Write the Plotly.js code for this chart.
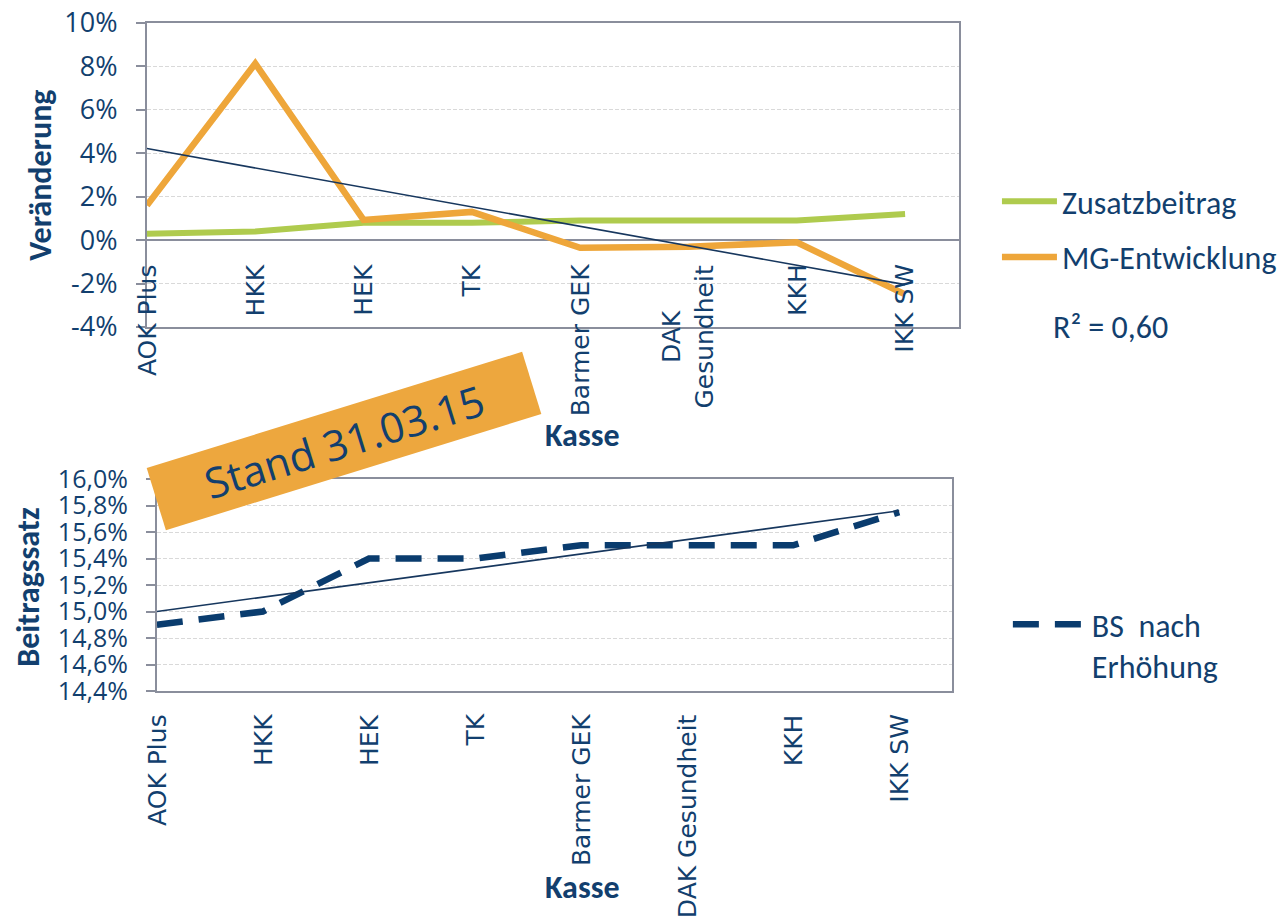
<!DOCTYPE html>
<html><head><meta charset="utf-8">
<script src="https://cdn.plot.ly/plotly-3.0.1.min.js"></script>
<style>html,body{margin:0;padding:0;background:#fff}#chart{width:1282px;height:920px}</style>
</head><body><div id="chart"></div>
<script>
// ---- data ----
const categories = ['AOK Plus','HKK','HEK','TK','Barmer GEK','DAK Gesundheit','KKH','IKK SW'];
const topCatLabels = ['AOK Plus','HKK','HEK','TK','Barmer GEK','DAK<br>Gesundheit','KKH','IKK SW'];
const bottomCatLabels = ['AOK Plus','HKK','HEK','TK','Barmer GEK','DAK Gesundheit','KKH','IKK SW'];
const zusatzbeitrag = [0.3, 0.4, 0.8, 0.8, 0.9, 0.9, 0.9, 1.2];
const mgEntwicklung = [1.6, 8.13, 0.93, 1.3, -0.35, -0.3, -0.1, -2.5];
const bsNachErhoehung = [14.9, 15.0, 15.4, 15.4, 15.5, 15.5, 15.5, 15.75];
const trendCats = ['AOK Plus','IKK SW'];
const trendTop = [4.22, -2.05];
const trendBottom = [15.0, 15.76];
const topTickVals = [-4,-2,0,2,4,6,8,10];
const topTickText = ['-4%','-2%','0%','2%','4%','6%','8%','10%'];
const bottomTickVals = [14.4,14.6,14.8,15.0,15.2,15.4,15.6,15.8,16.0];
const bottomTickText = ['14,4%','14,6%','14,8%','15,0%','15,2%','15,4%','15,6%','15,8%','16,0%'];

// ---- style ----
const W = 1282, H = 920;
const NAVY = '#123F6E';
const GRAY = '#8A8E9C';
const GRID = '#D9D9D9';
const ORANGE = '#EEA63A';
const GREEN = '#AFCB4E';
const CAL = 'Carlito, Lato, sans-serif';
const px = v => v / W;
const py = v => 1 - v / H;

const traces = [
  {x: categories, y: zusatzbeitrag, name: 'Zusatzbeitrag', type: 'scatter', mode: 'lines',
   line: {color: GREEN, width: 6}, xaxis: 'x', yaxis: 'y', legend: 'legend', legendgroup: 'a'},
  {x: categories, y: mgEntwicklung, name: 'MG-Entwicklung', type: 'scatter', mode: 'lines',
   line: {color: ORANGE, width: 6.5}, xaxis: 'x', yaxis: 'y', legend: 'legend', legendgroup: 'b'},
  {x: trendCats, y: trendTop, name: 'Trend', type: 'scatter', mode: 'lines', showlegend: false,
   line: {color: '#17375E', width: 1.6}, xaxis: 'x', yaxis: 'y'},
  {x: categories, y: bsNachErhoehung, name: 'BS\u00a0 nach<br>Erhöhung', type: 'scatter', mode: 'lines',
   line: {color: '#0A3C6E', width: 6.5, dash: '26px,16px'}, xaxis: 'x2', yaxis: 'y2', legend: 'legend2'},
  {x: trendCats, y: trendBottom, name: 'Trend2', type: 'scatter', mode: 'lines', showlegend: false,
   line: {color: '#17375E', width: 1.6}, xaxis: 'x2', yaxis: 'y2'}
];

const axisCommon = {
  showline: true, mirror: true, linecolor: GRAY, linewidth: 2,
  fixedrange: true
};

const annotations = [];
topCatLabels.forEach((t, i) => annotations.push({
  xref: 'x', yref: 'y', x: categories[i], y: 0, yshift: -22,
  xanchor: 'center', yanchor: 'top', textangle: -90, text: t, align: 'center',
  showarrow: false, font: {family: 'DejaVu Sans', size: 25, color: NAVY}
}));
bottomCatLabels.forEach((t, i) => annotations.push({
  xref: 'x2', yref: 'y2', x: categories[i], y: 14.4, yshift: -21,
  xanchor: 'center', yanchor: 'top', textangle: -90, text: t, align: 'center',
  showarrow: false, font: {family: 'DejaVu Sans', size: 25, color: NAVY}
}));
annotations.push(
  {xref: 'paper', yref: 'paper', x: px(587), y: py(436), xanchor: 'center', yanchor: 'middle',
   text: '<b>Kasse</b>', showarrow: false, font: {family: CAL, size: 32, color: NAVY}},
  {xref: 'paper', yref: 'paper', x: px(587), y: py(887), xanchor: 'center', yanchor: 'middle',
   text: '<b>Kasse</b>', showarrow: false, font: {family: CAL, size: 32, color: NAVY}},
  {xref: 'paper', yref: 'paper', x: px(40), y: py(175), xanchor: 'center', yanchor: 'middle', textangle: -90,
   text: '<b>Veränderung</b>', showarrow: false, font: {family: CAL, size: 32, color: NAVY}},
  {xref: 'paper', yref: 'paper', x: px(28), y: py(587), xanchor: 'center', yanchor: 'middle', textangle: -90,
   text: '<b>Beitragssatz</b>', showarrow: false, font: {family: CAL, size: 32, color: NAVY}},
  {xref: 'paper', yref: 'paper', x: px(1058), y: py(327), xanchor: 'left', yanchor: 'middle',
   text: 'R² = 0,60', showarrow: false, font: {family: CAL, size: 32, color: NAVY}},
  {xref: 'paper', yref: 'paper', x: px(346.5), y: py(441), xanchor: 'center', yanchor: 'middle',
   text: 'Stand 31.03.15', textangle: -17.2, width: 392, height: 64, borderpad: 0,
   bgcolor: '#EDA73E', showarrow: false, align: 'center', valign: 'middle',
   font: {family: 'Open Sans', size: 42, color: NAVY}}
);

const layout = {
  width: W, height: H, autosize: false,
  margin: {l: 0, r: 0, t: 0, b: 0},
  paper_bgcolor: '#fff', plot_bgcolor: '#fff',
  separators: ',.',
  showlegend: true,
  xaxis: Object.assign({}, axisCommon, {
    domain: [px(148), px(966)], anchor: 'y', type: 'category', range: [0, 7.5],
    showgrid: false, showticklabels: false, ticks: '', zeroline: false
  }),
  yaxis: Object.assign({}, axisCommon, {
    domain: [py(327), py(23)], anchor: 'x', range: [-4, 10],
    tickvals: topTickVals, ticktext: topTickText, ticks: 'outside', ticklen: 9, tickwidth: 2, tickcolor: GRAY,
    ticklabelstandoff: 13,
    tickfont: {family: 'Open Sans', size: 27, color: NAVY},
    showgrid: true, gridcolor: GRID, gridwidth: 1, griddash: '4px,2px',
    zeroline: true, zerolinecolor: GRAY, zerolinewidth: 2
  }),
  xaxis2: Object.assign({}, axisCommon, {
    domain: [px(158), px(959)], anchor: 'y2', type: 'category', range: [0, 7.5],
    showgrid: false, showticklabels: false, ticks: '', zeroline: false
  }),
  yaxis2: Object.assign({}, axisCommon, {
    domain: [py(691), py(479)], anchor: 'x2', range: [14.4, 16.0],
    tickvals: bottomTickVals, ticktext: bottomTickText, ticks: 'outside', ticklen: 9, tickwidth: 2, tickcolor: GRAY,
    ticklabelstandoff: 13,
    tickfont: {family: 'Open Sans', size: 25, color: NAVY},
    showgrid: true, gridcolor: GRID, gridwidth: 1, griddash: '4px,2px',
    zeroline: false
  }),
  legend: {
    x: px(1004), y: py(174), xanchor: 'left', yanchor: 'top',
    bgcolor: 'rgba(0,0,0,0)', font: {family: CAL, size: 32, color: NAVY},
    tracegroupgap: 11, itemwidth: 55, traceorder: 'grouped'
  },
  legend2: {
    x: px(1015), y: py(597), xanchor: 'left', yanchor: 'top',
    bgcolor: 'rgba(0,0,0,0)', font: {family: CAL, size: 32, color: NAVY},
    itemwidth: 74, valign: 'top'
  },
  annotations: annotations
};

Plotly.newPlot('chart', traces, layout, {staticPlot: true, displayModeBar: false});
</script>
</body></html>
